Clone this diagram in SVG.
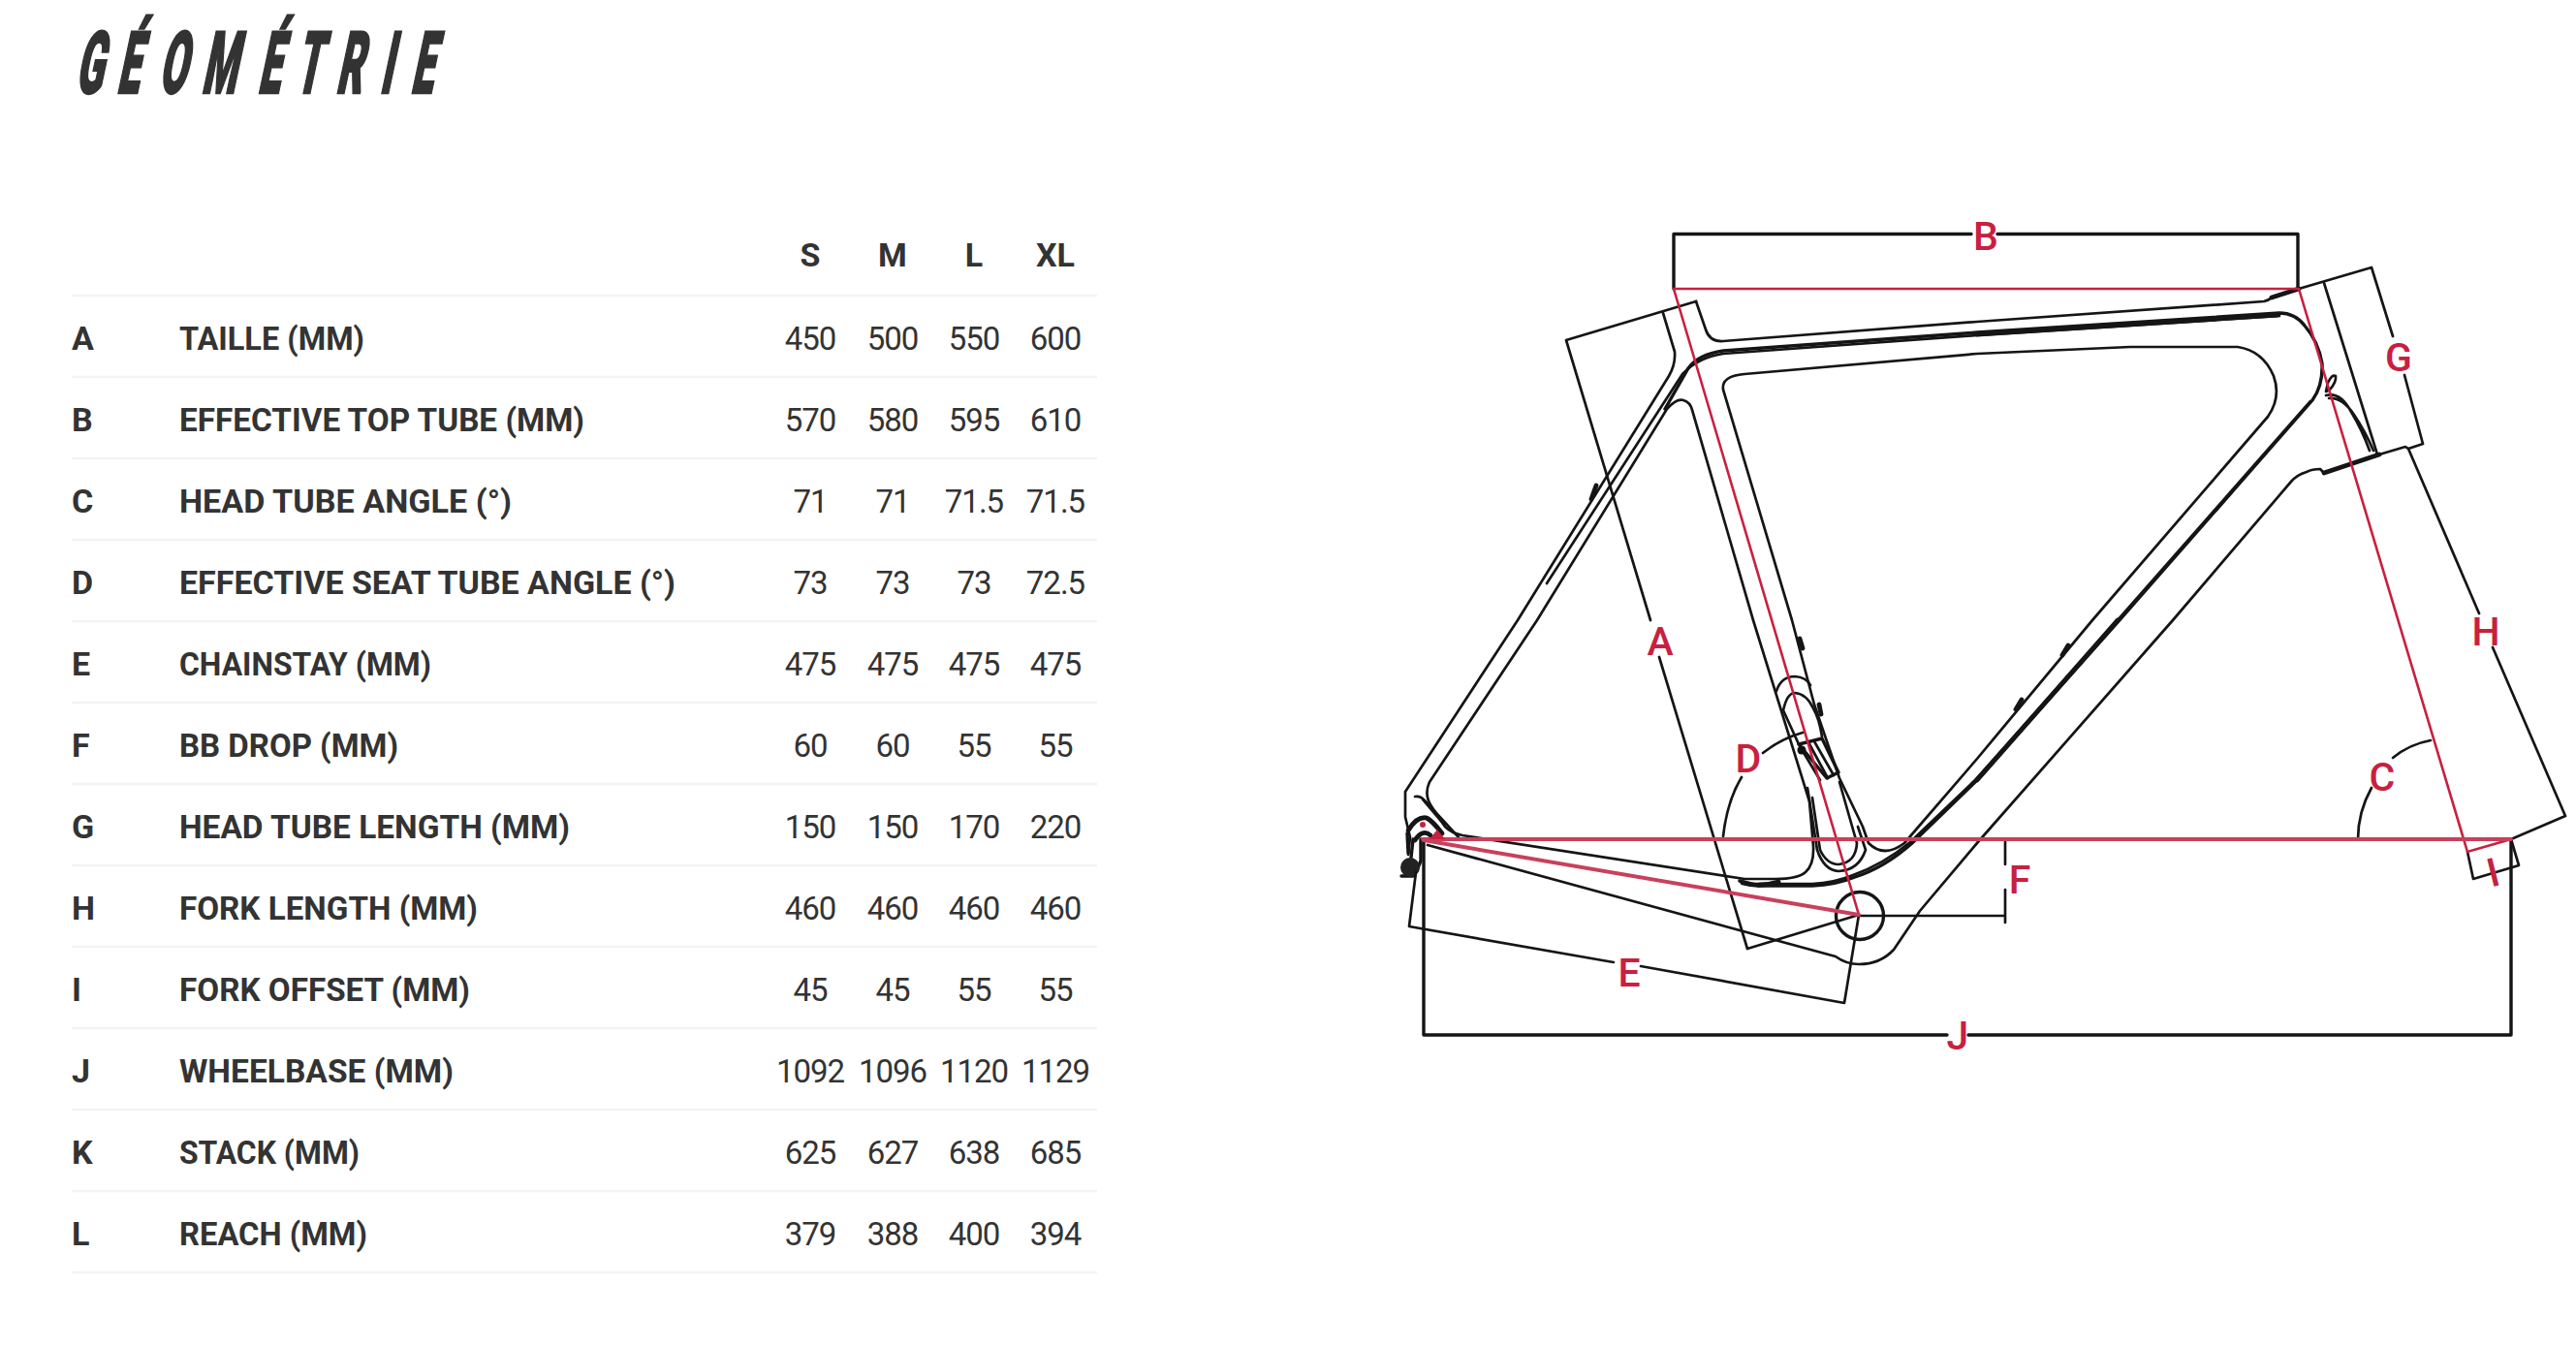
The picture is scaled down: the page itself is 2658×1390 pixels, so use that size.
<svg xmlns="http://www.w3.org/2000/svg" width="2658" height="1390" viewBox="0 0 2658 1390">
<style>
text{font-family:Roboto,"Liberation Sans",sans-serif;fill:#333}
.k,.h{font-size:34px;font-weight:700}
.h{text-anchor:middle}
.l{font-size:34px;font-weight:700}
.n{font-size:33px;letter-spacing:-1px;text-anchor:middle}
.title{font-size:89px;font-weight:900;stroke:#333;stroke-width:2.500;stroke-linejoin:miter}
.rule{stroke:#f4f4f4;stroke-width:2.5}
.b{fill:none;stroke:#151515;stroke-width:2.7;stroke-linejoin:round;stroke-linecap:round}
.b3{stroke-width:3.4}
.b5{stroke-width:4.8}
.r{fill:none;stroke:#c8203f;stroke-width:2.6;stroke-linecap:round}
.r2{stroke:#c9405c;stroke-width:4}
.m{font-size:41px;font-weight:500;fill:#c8203f;text-anchor:middle}
</style>
<rect width="2658" height="1390" fill="#fff"/>
<g id="title"><text class="title" transform="translate(77,96) skewX(-12) scale(.46,1)" x="0 93 187 283 409 493 585 683 752">GÉOMÉTRIE</text></g>
<g id="table">
<text class="h" x="836" y="275">S</text><text class="h" x="921" y="275">M</text><text class="h" x="1005" y="275">L</text><text class="h" x="1089" y="275">XL</text>
<g class="rules">
<line class="rule" x1="74" x2="1132" y1="305" y2="305"/><line class="rule" x1="74" x2="1132" y1="389" y2="389"/><line class="rule" x1="74" x2="1132" y1="473" y2="473"/><line class="rule" x1="74" x2="1132" y1="557" y2="557"/><line class="rule" x1="74" x2="1132" y1="641" y2="641"/><line class="rule" x1="74" x2="1132" y1="725" y2="725"/><line class="rule" x1="74" x2="1132" y1="809" y2="809"/><line class="rule" x1="74" x2="1132" y1="893" y2="893"/><line class="rule" x1="74" x2="1132" y1="977" y2="977"/><line class="rule" x1="74" x2="1132" y1="1061" y2="1061"/><line class="rule" x1="74" x2="1132" y1="1145" y2="1145"/><line class="rule" x1="74" x2="1132" y1="1229" y2="1229"/><line class="rule" x1="74" x2="1132" y1="1313" y2="1313"/>
</g>
<g id="row-a"><text class="k" x="74" y="361">A</text><text class="l" x="185" y="361" textLength="191" lengthAdjust="spacingAndGlyphs">TAILLE (MM)</text><text class="n" x="836" y="361">450</text><text class="n" x="921" y="361">500</text><text class="n" x="1005" y="361">550</text><text class="n" x="1089" y="361">600</text></g>
<g id="row-b"><text class="k" x="74" y="445">B</text><text class="l" x="185" y="445" textLength="418" lengthAdjust="spacingAndGlyphs">EFFECTIVE TOP TUBE (MM)</text><text class="n" x="836" y="445">570</text><text class="n" x="921" y="445">580</text><text class="n" x="1005" y="445">595</text><text class="n" x="1089" y="445">610</text></g>
<g id="row-c"><text class="k" x="74" y="529">C</text><text class="l" x="185" y="529" textLength="343" lengthAdjust="spacingAndGlyphs">HEAD TUBE ANGLE (°)</text><text class="n" x="836" y="529">71</text><text class="n" x="921" y="529">71</text><text class="n" x="1005" y="529">71.5</text><text class="n" x="1089" y="529">71.5</text></g>
<g id="row-d"><text class="k" x="74" y="613">D</text><text class="l" x="185" y="613" textLength="512" lengthAdjust="spacingAndGlyphs">EFFECTIVE SEAT TUBE ANGLE (°)</text><text class="n" x="836" y="613">73</text><text class="n" x="921" y="613">73</text><text class="n" x="1005" y="613">73</text><text class="n" x="1089" y="613">72.5</text></g>
<g id="row-e"><text class="k" x="74" y="697">E</text><text class="l" x="185" y="697" textLength="260" lengthAdjust="spacingAndGlyphs">CHAINSTAY (MM)</text><text class="n" x="836" y="697">475</text><text class="n" x="921" y="697">475</text><text class="n" x="1005" y="697">475</text><text class="n" x="1089" y="697">475</text></g>
<g id="row-f"><text class="k" x="74" y="781">F</text><text class="l" x="185" y="781" textLength="226" lengthAdjust="spacingAndGlyphs">BB DROP (MM)</text><text class="n" x="836" y="781">60</text><text class="n" x="921" y="781">60</text><text class="n" x="1005" y="781">55</text><text class="n" x="1089" y="781">55</text></g>
<g id="row-g"><text class="k" x="74" y="865">G</text><text class="l" x="185" y="865" textLength="403" lengthAdjust="spacingAndGlyphs">HEAD TUBE LENGTH (MM)</text><text class="n" x="836" y="865">150</text><text class="n" x="921" y="865">150</text><text class="n" x="1005" y="865">170</text><text class="n" x="1089" y="865">220</text></g>
<g id="row-h"><text class="k" x="74" y="949">H</text><text class="l" x="185" y="949" textLength="308" lengthAdjust="spacingAndGlyphs">FORK LENGTH (MM)</text><text class="n" x="836" y="949">460</text><text class="n" x="921" y="949">460</text><text class="n" x="1005" y="949">460</text><text class="n" x="1089" y="949">460</text></g>
<g id="row-i"><text class="k" x="74" y="1033">I</text><text class="l" x="185" y="1033" textLength="300" lengthAdjust="spacingAndGlyphs">FORK OFFSET (MM)</text><text class="n" x="836" y="1033">45</text><text class="n" x="921" y="1033">45</text><text class="n" x="1005" y="1033">55</text><text class="n" x="1089" y="1033">55</text></g>
<g id="row-j"><text class="k" x="74" y="1117">J</text><text class="l" x="185" y="1117" textLength="283" lengthAdjust="spacingAndGlyphs">WHEELBASE (MM)</text><text class="n" x="836" y="1117">1092</text><text class="n" x="921" y="1117">1096</text><text class="n" x="1005" y="1117">1120</text><text class="n" x="1089" y="1117">1129</text></g>
<g id="row-k"><text class="k" x="74" y="1201">K</text><text class="l" x="185" y="1201" textLength="186" lengthAdjust="spacingAndGlyphs">STACK (MM)</text><text class="n" x="836" y="1201">625</text><text class="n" x="921" y="1201">627</text><text class="n" x="1005" y="1201">638</text><text class="n" x="1089" y="1201">685</text></g>
<g id="row-l"><text class="k" x="74" y="1285">L</text><text class="l" x="185" y="1285" textLength="194" lengthAdjust="spacingAndGlyphs">REACH (MM)</text><text class="n" x="836" y="1285">379</text><text class="n" x="921" y="1285">388</text><text class="n" x="1005" y="1285">400</text><text class="n" x="1089" y="1285">394</text></g>
</g>
<g id="frame">
<path class="b" d="M1750,311 L1760,340 Q1764,353 1778,352 L2040,332 L2336,311 Q2341,310 2344,307"/>
<path class="b b5" d="M2344,307 L2372,298"/>
<path class="b" d="M1716,323 L1728,363 Q1729,376 1722,388 L1566,640 L1450,817 L1450,843 L1455,864 L1453,882"/>
<path class="b b3" d="M1718,422 L1742,380 Q1752,366 1778,362 L2040,343 L2352,323 Q2368,323 2378,336 Q2392,352 2396,375 Q2397,398 2386,413 L2187,640 L2040,805 L1973,870 Q1945,895 1914,905 Q1895,913 1870,914 L1815,914 L1795,909"/>
<path class="b" d="M1736,386 Q1752,369 1778,365 L2040,346 L2352,326 M1736,386 L1596,602 M2384,414 L2185,640 L2038,805 L1971,869 Q1943,892 1912,903 Q1893,911 1870,912 L1815,912"/>
<path class="b b5" d="M2040,345 L2350,325 M2185,640 L2040,805"/>
<path class="b" d="M1475,807 L1586,640 L1720,422 Q1730,411 1737,413 Q1744,415 1746,423 L1809,640 L1867,827 L1871,873 Q1872,892 1863,900 Q1855,907 1832,907 L1800,907 L1509,862 Q1498,860 1491,853 L1477,832 Q1469,820 1475,807 Z"/>
<path class="b" d="M2040,365 L2198,358 L2309,358 Q2335,362 2346,388 Q2354,410 2340,430 L2159,640 L2040,783 L1965,870 Q1944,886 1928,870 L1922,853 L1898,803 L1872,727 L1849,640 L1778,402 Q1776,388 1800,386 L2040,365 Z"/>
<path class="b" d="M2398,488 L2394,484 Q2386,484 2380,487 Q2370,490 2364,497 L2242,640 L2040,870 L1981,940 L1954,980 Q1940,995 1918,995 Q1905,995 1894,987 L1473,872"/>
<path class="b b5" d="M2398,488 L2455,469"/>
<path class="b" d="M2455,469 L2482,461 L2485,463"/>
<circle class="b b3" cx="1919" cy="945" r="24.500"/>
<path class="b" d="M2400,408 Q2415,404 2426,425 Q2437,443 2445,465 M2403,411 Q2417,410 2429,428 Q2441,446 2449,465"/>
<path class="b" d="M2400,404 L2402,395 Q2406,386 2410,388 Q2411,394 2404,402 Z"/>
<path class="b" d="M1460,822 Q1466,821 1470,826 L1505,864 M1468,825 L1490,851"/>
<path class="b b5" d="M1453,857 Q1462,842 1472,844 Q1478,847 1488,860 M1460,867 Q1468,855 1476,862"/>
<path class="b b3" d="M1458,866 L1456,885 M1466,866 L1466,888 Q1464,895 1458,904 L1446,904 M1452,860 L1453,880"/>
<circle cx="1455" cy="895" r="10" fill="#222"/>
<path class="b" d="M1833,713 Q1838,698 1852,698 Q1864,699 1868,707"/>
<path class="b" d="M1840,733 Q1844,715 1852,715 Q1864,716 1871,731 Q1877,741 1880,760 M1840,733 L1856,768"/>
<path class="b b3" d="M1856,768 L1880,762 L1897,797 L1885,803 Z"/>
<path class="b" d="M1866,766 L1886,803 M1872,765 L1892,800 M1860,775 L1878,805"/>
<circle cx="1859" cy="774" r="4.500" fill="#111"/>
<path class="b" d="M1865,813 L1875,877 Q1882,898 1897,899 Q1918,898 1925,877 L1917,853"/>
<path class="b" d="M1870,823 L1878,877 Q1885,892 1897,892 Q1915,890 1916,870 L1898,807"/>
<path class="b b5" d="M1798,911 Q1815,916 1835,910"/>
<path class="b b5" d="M1647,501 L1642,515 M1857,659 L1860,669 M1877,727 L1879,737 M2134,666 L2128,676 M2086,722 L2080,732"/>
</g>
<g id="connectors">
<path class="b b3" d="M2034,241.500 L1727,241.500 L1727,298 M2061,241.500 L2371,241.500 L2371,298"/>
<path class="b" d="M1750,311 L1616,351 L1703,640 M1712,678 L1803,979 L1918,944"/>
<path class="b" d="M2372,298 L2447,276 L2469,347 M2481,387 L2500,458 L2485,463 L2558,633 M2572,668 L2647,842 L2591,866"/>
<path class="b" d="M2398,292 L2453,469"/>
<path class="b b3" d="M2591,866 L2591,1068 L2031,1068 M2009,1068 L1469,1068 L1469,868"/>
<path class="b" d="M2546,879 L2552,907 L2599,893 L2591,866"/>
<path class="b" d="M1918,944 L1903,1035 L1693,997 M1665,993 L1454,956 L1461,900"/>
<path class="b" d="M1918,945 L2069,945 M2069,866 L2069,892 M2069,918 L2069,952"/>
<path class="b" d="M1778,863 Q1782,827 1797,802 M1819,777 Q1838,762 1860,756"/>
<path class="b" d="M2433,866 Q2433,838 2447,813 M2469,782 Q2486,768 2508,764"/>
<path class="r" d="M1727,298 L2372,298 L2546,879 L2591,866 M1727,298 L1918,944"/>
<path class="r r2" d="M1468,866 L2591,866 M1469,867 L1918,944"/>
<path d="M1475,866 L1483,856 L1491,866 Z" fill="#c8203f"/>
<circle cx="1468" cy="851" r="3" fill="#c8203f"/>
</g>
<g id="labels">
<text class="m" x="2049" y="258">B</text>
<text class="m" x="1713" y="676">A</text>
<text class="m" x="2475" y="383">G</text>
<text class="m" x="2565" y="666">H</text>
<text class="m" x="2458" y="816">C</text>
<text class="m" x="1804" y="797">D</text>
<text class="m" x="1681" y="1018">E</text>
<text class="m" x="2084" y="922">F</text>
<text class="m" x="2020" y="1083">J</text>
<text class="m" transform="translate(2576,914) rotate(-14)" x="0" y="0">I</text>
</g>
</svg>
